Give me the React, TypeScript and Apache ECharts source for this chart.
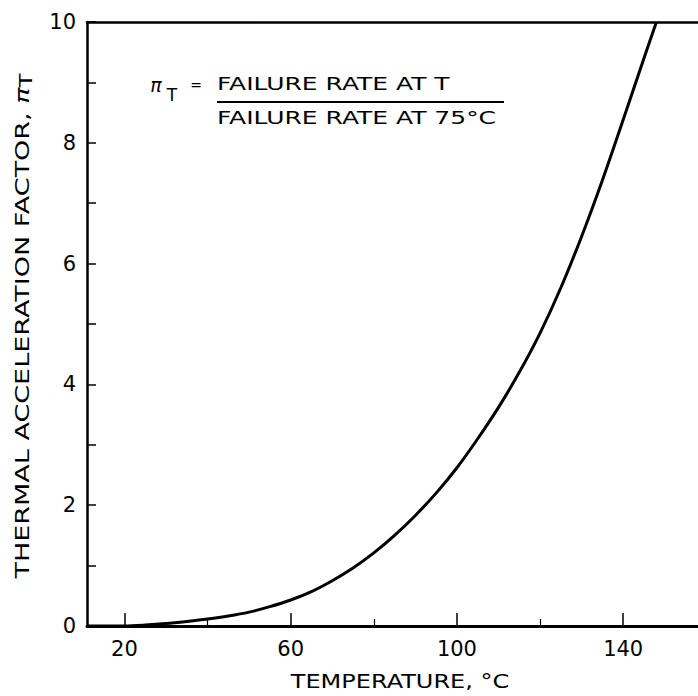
import React, { useEffect, useRef } from "react";
import * as echarts from "echarts";

// Temperature (°C) and thermal acceleration factor
const temperatures = [11, 20, 25, 30, 35, 40, 45, 50, 55, 60, 65, 70, 75, 80, 85, 90, 95, 100, 105, 110, 115, 120, 125, 130, 135, 140, 145, 148];
const accelFactor = [0, 0, 0.015, 0.04, 0.075, 0.115, 0.165, 0.23, 0.32, 0.43, 0.57, 0.75, 0.96, 1.21, 1.5, 1.83, 2.2, 2.62, 3.1, 3.62, 4.2, 4.85, 5.6, 6.45, 7.38, 8.38, 9.4, 10];

const xMajorTicks = [20, 60, 100, 140];
const xMinorTicks = [40, 80, 120];
const xMin = 11;
const xMax = 158;
const yMin = 0;
const yMax = 10;

const FONT = "DejaVu Sans";

export default function App() {
  const ref = useRef<HTMLDivElement>(null);
  useEffect(() => {
    document.body.style.margin = "0";
    if (!ref.current) return;
    const chart = echarts.init(ref.current, null, { renderer: "svg" });
    const black = "#000";
    chart.setOption({
      animation: false,
      backgroundColor: "#fff",
      grid: { left: 87, right: 0, top: 22, bottom: 70 },
      xAxis: [
        {
          type: "value",
          min: xMin,
          max: xMax,
          position: "bottom",
          axisLine: { show: true, lineStyle: { color: black, width: 3 } },
          axisTick: { show: true, inside: true, length: 13, customValues: xMajorTicks, lineStyle: { color: black, width: 1.5 } },
          axisLabel: { show: true, customValues: xMajorTicks, color: black, fontSize: 21, fontFamily: FONT, margin: 12 },
          splitLine: { show: false },
        },
        {
          type: "value",
          min: xMin,
          max: xMax,
          position: "bottom",
          axisLine: { show: false },
          axisTick: { show: true, inside: true, length: 7, customValues: xMinorTicks, lineStyle: { color: black, width: 1.2 } },
          axisLabel: { show: false },
          splitLine: { show: false },
        },
        {
          type: "value",
          min: xMin,
          max: xMax,
          position: "top",
          axisLine: { show: true, lineStyle: { color: black, width: 2.5 } },
          axisTick: { show: false },
          axisLabel: { show: false },
          splitLine: { show: false },
        },
      ],
      yAxis: {
        type: "value",
        min: yMin,
        max: yMax,
        interval: 1,
        axisLine: { show: true, lineStyle: { color: black, width: 2.5 } },
        axisTick: { show: true, inside: true, length: 9, lineStyle: { color: black, width: 1.5 } },
        axisLabel: {
          color: black,
          fontSize: 21,
          fontFamily: FONT,
          margin: 11,
          formatter: (v: number) => (v % 2 === 0 ? String(v) : ""),
        },
        splitLine: { show: false },
      },
      series: [
        {
          type: "line",
          xAxisIndex: 0,
          data: temperatures.map((t, i) => [t, accelFactor[i]]),
          symbol: "none",
          smooth: 0.3,
          clip: true,
          lineStyle: { color: black, width: 3 },
        },
      ],
      graphic: [
        {
          type: "text",
          x: 22,
          y: 326,
          rotation: Math.PI / 2,
          scaleX: 1.35,
          style: {
            text: "THERMAL ACCELERATION FACTOR, {p|π}{s|T}",
            fontFamily: FONT,
            fontSize: 20,
            fill: black,
            align: "center",
            verticalAlign: "middle",
            rich: {
              p: { fontFamily: FONT, fontSize: 20, fill: black, fontStyle: "italic" },
              s: { fontFamily: FONT, fontSize: 17, fill: black, padding: [8, 0, 0, 0] },
            },
          },
        },
        {
          type: "text",
          x: 400,
          y: 681,
          scaleX: 1.2,
          style: {
            text: "TEMPERATURE, °C",
            fontFamily: FONT,
            fontSize: 20,
            fill: black,
            align: "center",
            verticalAlign: "middle",
          },
        },
        {
          type: "text",
          x: 156,
          y: 85,
          style: { text: "π", fontFamily: FONT, fontSize: 19, fontStyle: "italic", fill: black, align: "center", verticalAlign: "middle" },
        },
        {
          type: "text",
          x: 172,
          y: 95,
          style: { text: "T", fontFamily: FONT, fontSize: 17, fill: black, align: "center", verticalAlign: "middle" },
        },
        {
          type: "text",
          x: 196,
          y: 85,
          style: { text: "=", fontFamily: FONT, fontSize: 14, fill: black, align: "center", verticalAlign: "middle" },
        },
        {
          type: "text",
          x: 217,
          y: 84,
          scaleX: 1.47,
          style: { text: "FAILURE RATE AT T", fontFamily: FONT, fontSize: 17, fill: black, align: "left", verticalAlign: "middle" },
        },
        {
          type: "line",
          shape: { x1: 217, y1: 102, x2: 504, y2: 102 },
          style: { stroke: black, lineWidth: 2 },
        },
        {
          type: "text",
          x: 217,
          y: 118,
          scaleX: 1.47,
          style: { text: "FAILURE RATE AT 75°C", fontFamily: FONT, fontSize: 17, fill: black, align: "left", verticalAlign: "middle" },
        },
      ],
    });
    return () => chart.dispose();
  }, []);
  return <div ref={ref} style={{ width: 698, height: 696 }} />;
}
